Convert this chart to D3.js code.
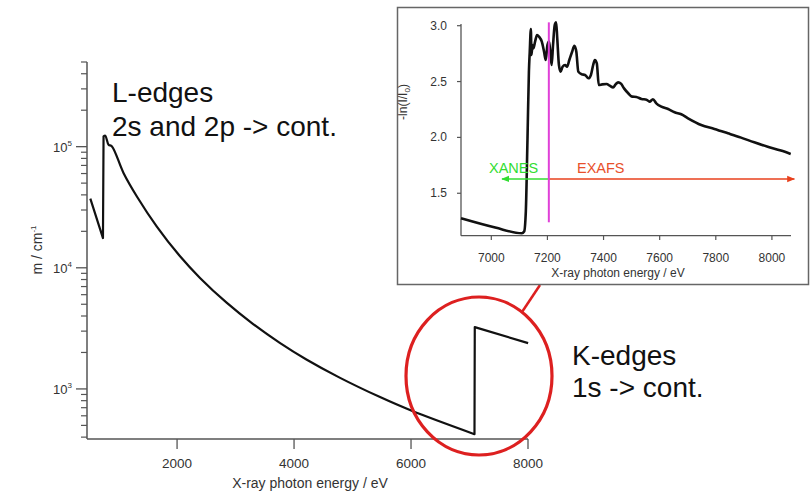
<!DOCTYPE html>
<html><head><meta charset="utf-8">
<script src="https://cdn.jsdelivr.net/npm/d3@7"></script>
<style>
body{margin:0;background:#fff;}
svg{display:block;font-family:"Liberation Sans",Arial,sans-serif;}
</style></head>
<body><svg id="c" width="812" height="491"></svg>
<script>
// ---- Main spectrum (absorption coefficient, log scale) ----
const mainEnergy = [517, 733, 743, 772, 829, 887, 1084, 1313, 1654, 2051, 2392, 2847, 3301, 3756, 4211, 4779, 5461, 6002, 7085, 7090, 8002];
const mainMu     = [37200, 17600, 121700, 123300, 103900, 100500, 60700, 38800, 21900, 12440, 8250, 5150, 3430, 2400, 1750, 1240, 860, 663, 423, 3240, 2390];
const mainXTicks = [2000, 4000, 6000, 8000];
const mainYMajor = [1e3, 1e4, 1e5];
const mainYExp   = ["3", "4", "5"];

// ---- Inset XAS spectrum ----
const insetEnergy = [6892,7014,7109,7117,7123,7129,7134,7137,7141,7143,7147,7150,7156,7163,7170,7180,7188,7194,7200,7206,7211,7215,7220,7226,7231,7235,7241,7247,7254,7263,7270,7278,7288,7296,7303,7310,7322,7334,7346,7355,7363,7369,7376,7383,7395,7411,7422,7434,7443,7452,7462,7473,7488,7502,7517,7535,7553,7564,7576,7588,7606,7630,7653,7677,7701,7748,7795,7843,7890,7937,7985,8032,8067];
const insetAbs = [1.276,1.193,1.142,1.157,1.336,1.992,2.588,2.767,2.970,2.738,2.827,2.797,2.857,2.917,2.902,2.857,2.767,2.693,2.827,2.857,2.738,2.648,2.827,3.006,3.030,2.887,2.648,2.589,2.633,2.648,2.633,2.693,2.767,2.821,2.767,2.589,2.565,2.559,2.529,2.559,2.648,2.693,2.663,2.469,2.475,2.478,2.463,2.448,2.475,2.493,2.481,2.439,2.395,2.365,2.362,2.344,2.338,2.320,2.341,2.305,2.275,2.254,2.225,2.207,2.171,2.111,2.076,2.037,1.998,1.956,1.917,1.882,1.852];
const insetXTicks = [7000, 7200, 7400, 7600, 7800, 8000];
const insetYTicks = [1.5, 2.0, 2.5, 3.0];
const edgeSplit = 7205;      // XANES / EXAFS boundary
const arrowLevel = 1.628;
const xanesStart = 7038, exafsEnd = 8080;
const magentaRange = [1.24, 3.03];

const svg = d3.select("#c");
const axisCol = "#555", textCol = "#333";

// ============ MAIN CHART ============
const x = d3.scaleLinear().domain([460, 8000]).range([87, 528]);
const y = d3.scaleLog().domain([386, 5e5]).range([439, 62]);

const gM = svg.append("g");
gM.append("line").attr("x1",87).attr("x2",528).attr("y1",439).attr("y2",439).attr("stroke",axisCol).attr("stroke-width",1.5);
gM.append("line").attr("x1",87).attr("x2",87).attr("y1",62).attr("y2",439).attr("stroke",axisCol).attr("stroke-width",1.5);
mainXTicks.forEach(t=>{
  gM.append("line").attr("x1",x(t)).attr("x2",x(t)).attr("y1",439).attr("y2",449).attr("stroke",axisCol).attr("stroke-width",1.3);
  gM.append("text").attr("x",x(t)).attr("y",468).attr("text-anchor","middle").attr("font-size",13.5).attr("fill",textCol).text(t);
});
gM.append("text").attr("x",310).attr("y",488).attr("text-anchor","middle").attr("font-size",14).attr("fill",textCol).text("X-ray photon energy / eV");
const minor = [];
for (let e=2;e<=5;e++) for (let k=2;k<=9;k++){ const v=k*Math.pow(10,e); if (v>=386 && v<=5e5) minor.push(v); }
minor.forEach(v=>{
  gM.append("line").attr("x1",81).attr("x2",87).attr("y1",y(v)).attr("y2",y(v)).attr("stroke",axisCol).attr("stroke-width",1.2);
});
mainYMajor.forEach((v,i)=>{
  gM.append("line").attr("x1",76).attr("x2",87).attr("y1",y(v)).attr("y2",y(v)).attr("stroke",axisCol).attr("stroke-width",1.3);
  const t = gM.append("text").attr("x",72).attr("y",y(v)+5).attr("text-anchor","end").attr("font-size",13).attr("fill",textCol);
  t.append("tspan").text("10");
  t.append("tspan").attr("dy",-6).attr("font-size",8).text(mainYExp[i]);
});
const yl = gM.append("text").attr("transform","translate(42,250) rotate(-90)").attr("text-anchor","middle").attr("font-size",14).attr("fill",textCol);
yl.append("tspan").text("m / cm");
yl.append("tspan").attr("dy",-6).attr("font-size",8).text("-1");

// curve: straight segments across the edges, smooth decay between them
const mainData = mainEnergy.map((e,i)=>[e, mainMu[i]]);
const lineLin = d3.line().x(d=>x(d[0])).y(d=>y(d[1]));
const lineSmooth = d3.line().x(d=>x(d[0])).y(d=>y(d[1])).curve(d3.curveCatmullRom.alpha(0.5));
const pieces = [[mainData.slice(0,3), lineLin],[mainData.slice(2,19), lineSmooth],[mainData.slice(18), lineLin]];
const dStr = pieces.map(([seg,gen],i)=>{ let s=gen(seg); return i>0 ? "L"+s.slice(1) : s; }).join("");
gM.append("path").attr("fill","none").attr("stroke","#111").attr("stroke-width",2.2).attr("stroke-linejoin","round").attr("d", dStr);

// annotations
const ann = svg.append("g").attr("fill","#111").attr("font-size",28);
ann.append("text").attr("x",112).attr("y",102).text("L-edges");
ann.append("text").attr("x",112).attr("y",136).text("2s and 2p -> cont.");
ann.append("text").attr("x",572).attr("y",365).text("K-edges");
ann.append("text").attr("x",572).attr("y",397).text("1s -> cont.");

svg.append("ellipse").attr("cx",479).attr("cy",376).attr("rx",73).attr("ry",79).attr("fill","none").attr("stroke","#dd2020").attr("stroke-width",3.2);
svg.append("line").attr("x1",522).attr("y1",312).attr("x2",540).attr("y2",285).attr("stroke","#dd2020").attr("stroke-width",2.5);

// ============ INSET ============
svg.append("rect").attr("x",397.5).attr("y",7.5).attr("width",411).attr("height",277).attr("fill","#fff").attr("stroke","#666").attr("stroke-width",1.5);
const xi = d3.scaleLinear().domain([6892, 8068]).range([461, 791]);
const yi = d3.scaleLinear().domain([1.12, 3.0]).range([235.7, 25.7]);
const gI = svg.append("g");
gI.append("line").attr("x1",461).attr("x2",791).attr("y1",235.7).attr("y2",235.7).attr("stroke",axisCol).attr("stroke-width",1.3);
gI.append("line").attr("x1",461).attr("x2",461).attr("y1",24).attr("y2",235.7).attr("stroke",axisCol).attr("stroke-width",1.3);
insetXTicks.forEach(t=>{
  gI.append("line").attr("x1",xi(t)).attr("x2",xi(t)).attr("y1",235.7).attr("y2",240).attr("stroke",axisCol).attr("stroke-width",1.2);
  gI.append("text").attr("x",xi(t)).attr("y",262).attr("text-anchor","middle").attr("font-size",12).attr("fill",textCol).text(t);
});
insetYTicks.forEach(t=>{
  gI.append("line").attr("x1",457).attr("x2",461).attr("y1",yi(t)).attr("y2",yi(t)).attr("stroke",axisCol).attr("stroke-width",1.2);
  gI.append("text").attr("x",447).attr("y",yi(t)+4).attr("text-anchor","end").attr("font-size",12).attr("fill",textCol).text(t.toFixed(1));
});
gI.append("text").attr("x",618).attr("y",277).attr("text-anchor","middle").attr("font-size",12).attr("fill",textCol).text("X-ray photon energy / eV");
const yli = gI.append("text").attr("transform","translate(407,102) rotate(-90)").attr("text-anchor","middle").attr("font-size",12).attr("fill",textCol);
yli.append("tspan").text("-ln(I/I");
yli.append("tspan").attr("dy",3).attr("font-size",8).text("0");
yli.append("tspan").attr("dy",-3).text(")");

const insetData = insetEnergy.map((e,i)=>[e, insetAbs[i]]);
gI.append("path").datum(insetData).attr("fill","none").attr("stroke","#111").attr("stroke-width",2.6).attr("stroke-linejoin","round")
  .attr("d", d3.line().x(d=>xi(d[0])).y(d=>yi(d[1])).curve(d3.curveMonotoneX));

const defs = svg.append("defs");
function marker(id,col,orient){
  defs.append("marker").attr("id",id).attr("viewBox","0 0 10 10").attr("refX",9).attr("refY",5)
   .attr("markerWidth",5).attr("markerHeight",5).attr("orient",orient)
   .append("path").attr("d","M0,1 L10,5 L0,9 Z").attr("fill",col);
}
marker("ag","#33dd33","auto");
marker("ar","#e8401c","auto");
gI.append("line").attr("x1",xi(edgeSplit)).attr("x2",xi(xanesStart)).attr("y1",yi(arrowLevel)).attr("y2",yi(arrowLevel))
  .attr("stroke","#33dd33").attr("stroke-width",1.6).attr("marker-end","url(#ag)");
gI.append("line").attr("x1",xi(edgeSplit)).attr("x2",xi(exafsEnd)).attr("y1",yi(arrowLevel)).attr("y2",yi(arrowLevel))
  .attr("stroke","#e8401c").attr("stroke-width",1.6).attr("marker-end","url(#ar)");
gI.append("text").attr("x",489).attr("y",173).attr("font-size",14.5).attr("fill","#33dd33").text("XANES");
gI.append("text").attr("x",577).attr("y",173).attr("font-size",14.5).attr("fill","#e8502a").text("EXAFS");
gI.append("line").attr("x1",xi(edgeSplit)).attr("x2",xi(edgeSplit)).attr("y1",yi(magentaRange[0])).attr("y2",yi(magentaRange[1]))
  .attr("stroke","#e040d8").attr("stroke-width",2);
</script></body></html>
